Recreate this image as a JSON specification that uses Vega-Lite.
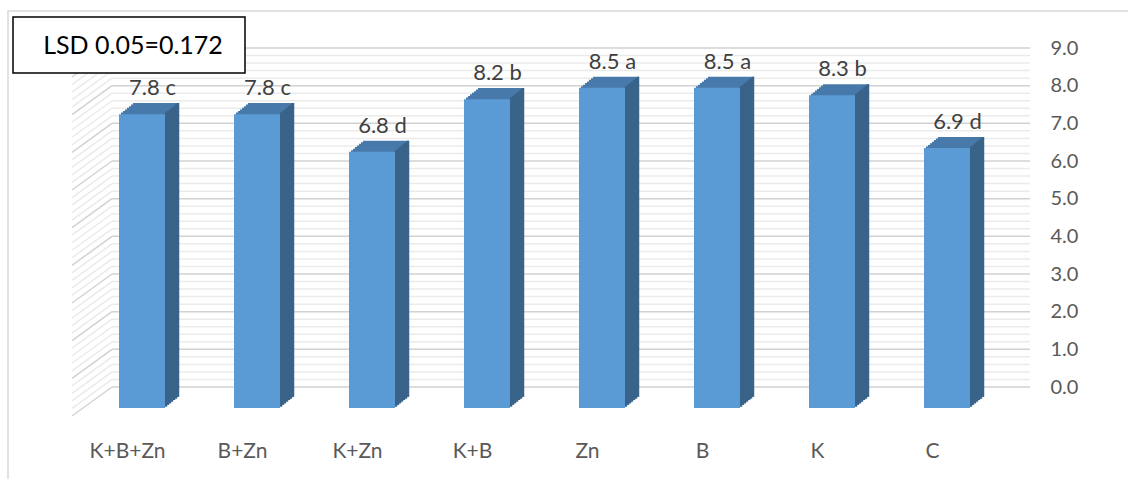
{
 "$schema": "https://vega.github.io/schema/vega-lite/v6.json",
 "width": 960, "height": 339,
 "autosize": "none",
 "padding": {"left": 70, "top": 48, "right": 98, "bottom": 92},
 "background": "white",
 "config": {"font": "Lato", "view": {"stroke": null},
  "axisX": {"title": null, "domain": false, "ticks": false, "grid": false, "labelAngle": 0, "labelAlign": "center", "labelPadding": 53, "labelFontSize": 21, "labelColor": "#595959", "labelFont": "Lato"},
  "axisY": {"title": null, "domain": false, "ticks": false, "grid": false, "labelPadding": 20, "labelFontSize": 20, "labelColor": "#595959", "labelFont": "Lato"}
 },
 "datasets": {
  "bars": [
   {"t": "K+B+Zn", "v": 7.8, "label": "7.8 c"},
   {"t": "B+Zn", "v": 7.8, "label": "7.8 c"},
   {"t": "K+Zn", "v": 6.8, "label": "6.8 d"},
   {"t": "K+B", "v": 8.2, "label": "8.2 b"},
   {"t": "Zn", "v": 8.5, "label": "8.5 a"},
   {"t": "B", "v": 8.5, "label": "8.5 a"},
   {"t": "K", "v": 8.3, "label": "8.3 b"},
   {"t": "C", "v": 6.9, "label": "6.9 d"}
  ],
  "grid": [
   {"v": 0}, {"v": 0.2}, {"v": 0.4}, {"v": 0.6}, {"v": 0.8},
   {"v": 1}, {"v": 1.2}, {"v": 1.4}, {"v": 1.6}, {"v": 1.8},
   {"v": 2}, {"v": 2.2}, {"v": 2.4}, {"v": 2.6}, {"v": 2.8},
   {"v": 3}, {"v": 3.2}, {"v": 3.4}, {"v": 3.6}, {"v": 3.8},
   {"v": 4}, {"v": 4.2}, {"v": 4.4}, {"v": 4.6}, {"v": 4.8},
   {"v": 5}, {"v": 5.2}, {"v": 5.4}, {"v": 5.6}, {"v": 5.8},
   {"v": 6}, {"v": 6.2}, {"v": 6.4}, {"v": 6.6}, {"v": 6.8},
   {"v": 7}, {"v": 7.2}, {"v": 7.4}, {"v": 7.6}, {"v": 7.8},
   {"v": 8}, {"v": 8.2}, {"v": 8.4}, {"v": 8.6}, {"v": 8.8},
   {"v": 9}
  ],
  "note": [{"note": "LSD 0.05=0.172"}]
 },
 "layer": [
  {"data": {"name": "note"},
   "mark": {"type": "bar", "width": 1132, "xOffset": 446.5, "yOffset": -37, "y2Offset": 100, "fill": "transparent", "stroke": "#d9d9d9", "strokeWidth": 1.5},
   "encoding": {
    "x": {"datum": "K+B+Zn", "type": "nominal", "scale": {"domain": ["K+B+Zn", "B+Zn", "K+Zn", "K+B", "Zn", "B", "K", "C"], "paddingInner": 0, "paddingOuter": 0.174, "align": 0}, "axis": {"orient": "bottom"}},
    "y": {"datum": 9, "type": "quantitative", "scale": {"domain": [0, 9], "nice": false}, "axis": {"orient": "right", "values": [0, 1, 2, 3, 4, 5, 6, 7, 8, 9], "format": ".1f"}},
    "y2": {"datum": 0}}},
  {"data": {"name": "grid"},
   "mark": {"type": "rule", "xOffset": -15.5, "x2Offset": 97.5, "strokeWidth": 1.5},
   "encoding": {
    "x": {"datum": "K+B+Zn", "type": "nominal", "axis": {"orient": "bottom"}},
    "x2": {"datum": "C"},
    "y": {"field": "v", "type": "quantitative", "axis": {"orient": "right", "values": [0, 1, 2, 3, 4, 5, 6, 7, 8, 9], "format": ".1f"}},
    "color": {"condition": {"test": "datum.v % 1 === 0", "value": "#d2d2d2"}, "value": "#ebebeb"}}},
  {"data": {"name": "grid"},
   "mark": {"type": "rule", "xOffset": -15.5, "x2Offset": -55.5, "y2Offset": 29, "strokeWidth": 1.5},
   "encoding": {
    "x": {"datum": "K+B+Zn", "type": "nominal", "axis": {"orient": "bottom"}},
    "x2": {"datum": "K+B+Zn"},
    "y": {"field": "v", "type": "quantitative", "axis": {"orient": "right", "values": [0, 1, 2, 3, 4, 5, 6, 7, 8, 9], "format": ".1f"}},
    "y2": {"field": "v"},
    "color": {"condition": {"test": "datum.v % 1 === 0", "value": "#d2d2d2"}, "value": "#ebebeb"}}},
  {"data": {"name": "bars"},
   "encoding": {
    "x": {"field": "t", "type": "nominal", "axis": {"orient": "bottom"}},
    "y": {"field": "v", "type": "quantitative", "axis": {"orient": "right", "values": [0, 1, 2, 3, 4, 5, 6, 7, 8, 9], "format": ".1f"}}
   },
   "layer": [
    {"mark": {"type": "bar", "width": 46, "xOffset": 16.5, "yOffset": 19.4, "y2Offset": 19.4, "color": "#477aab"}, "encoding": {"y2": {"datum": 0}}},
    {"mark": {"type": "bar", "width": 46, "xOffset": 18.5, "yOffset": 17.8, "y2Offset": 17.8, "color": "#477aab"}, "encoding": {"y2": {"datum": 0}}},
    {"mark": {"type": "bar", "width": 46, "xOffset": 20.5, "yOffset": 16.2, "y2Offset": 16.2, "color": "#477aab"}, "encoding": {"y2": {"datum": 0}}},
    {"mark": {"type": "bar", "width": 46, "xOffset": 22.5, "yOffset": 14.6, "y2Offset": 14.6, "color": "#477aab"}, "encoding": {"y2": {"datum": 0}}},
    {"mark": {"type": "bar", "width": 46, "xOffset": 24.5, "yOffset": 13, "y2Offset": 13, "color": "#477aab"}, "encoding": {"y2": {"datum": 0}}},
    {"mark": {"type": "bar", "width": 46, "xOffset": 26.5, "yOffset": 11.4, "y2Offset": 11.4, "color": "#477aab"}, "encoding": {"y2": {"datum": 0}}},
    {"mark": {"type": "bar", "width": 46, "xOffset": 28.5, "yOffset": 9.8, "y2Offset": 9.8, "color": "#477aab"}, "encoding": {"y2": {"datum": 0}}},
    {"mark": {"type": "bar", "width": 2.5, "xOffset": 38.5, "yOffset": 19.4, "y2Offset": 19.4, "color": "#3a6389"}, "encoding": {"y2": {"datum": 0}}},
    {"mark": {"type": "bar", "width": 2.5, "xOffset": 40.5, "yOffset": 17.8, "y2Offset": 17.8, "color": "#3a6389"}, "encoding": {"y2": {"datum": 0}}},
    {"mark": {"type": "bar", "width": 2.5, "xOffset": 42.5, "yOffset": 16.2, "y2Offset": 16.2, "color": "#3a6389"}, "encoding": {"y2": {"datum": 0}}},
    {"mark": {"type": "bar", "width": 2.5, "xOffset": 44.5, "yOffset": 14.6, "y2Offset": 14.6, "color": "#3a6389"}, "encoding": {"y2": {"datum": 0}}},
    {"mark": {"type": "bar", "width": 2.5, "xOffset": 46.5, "yOffset": 13, "y2Offset": 13, "color": "#3a6389"}, "encoding": {"y2": {"datum": 0}}},
    {"mark": {"type": "bar", "width": 2.5, "xOffset": 48.5, "yOffset": 11.4, "y2Offset": 11.4, "color": "#3a6389"}, "encoding": {"y2": {"datum": 0}}},
    {"mark": {"type": "bar", "width": 2.5, "xOffset": 50.5, "yOffset": 9.8, "y2Offset": 9.8, "color": "#3a6389"}, "encoding": {"y2": {"datum": 0}}},
    {"mark": {"type": "bar", "width": 46, "xOffset": 14.5, "yOffset": 21, "y2Offset": 21, "color": "#5b9bd5"}, "encoding": {"y2": {"datum": 0}}},
    {"mark": {"type": "text", "xOffset": 25, "yOffset": 2, "baseline": "alphabetic", "align": "center", "fontSize": 22, "color": "#404040"},
     "encoding": {"text": {"field": "label"}}}
   ]
  },
  {"data": {"name": "note"},
   "mark": {"type": "bar", "width": 232, "xOffset": 1.5, "yOffset": -31, "y2Offset": 25, "fill": "white", "stroke": "black", "strokeWidth": 1.5},
   "encoding": {
    "x": {"datum": "K+B+Zn", "type": "nominal", "axis": {"orient": "bottom"}},
    "y": {"datum": 9, "type": "quantitative", "axis": {"orient": "right", "values": [0, 1, 2, 3, 4, 5, 6, 7, 8, 9], "format": ".1f"}},
    "y2": {"datum": 9}}},
  {"data": {"name": "note"},
   "mark": {"type": "text", "xOffset": 5.5, "yOffset": -2, "baseline": "middle", "align": "center", "fontSize": 25, "color": "black"},
   "encoding": {
    "x": {"datum": "K+B+Zn", "type": "nominal", "axis": {"orient": "bottom"}},
    "y": {"datum": 9, "type": "quantitative", "axis": {"orient": "right", "values": [0, 1, 2, 3, 4, 5, 6, 7, 8, 9], "format": ".1f"}},
    "text": {"field": "note"}}}
 ]
}
